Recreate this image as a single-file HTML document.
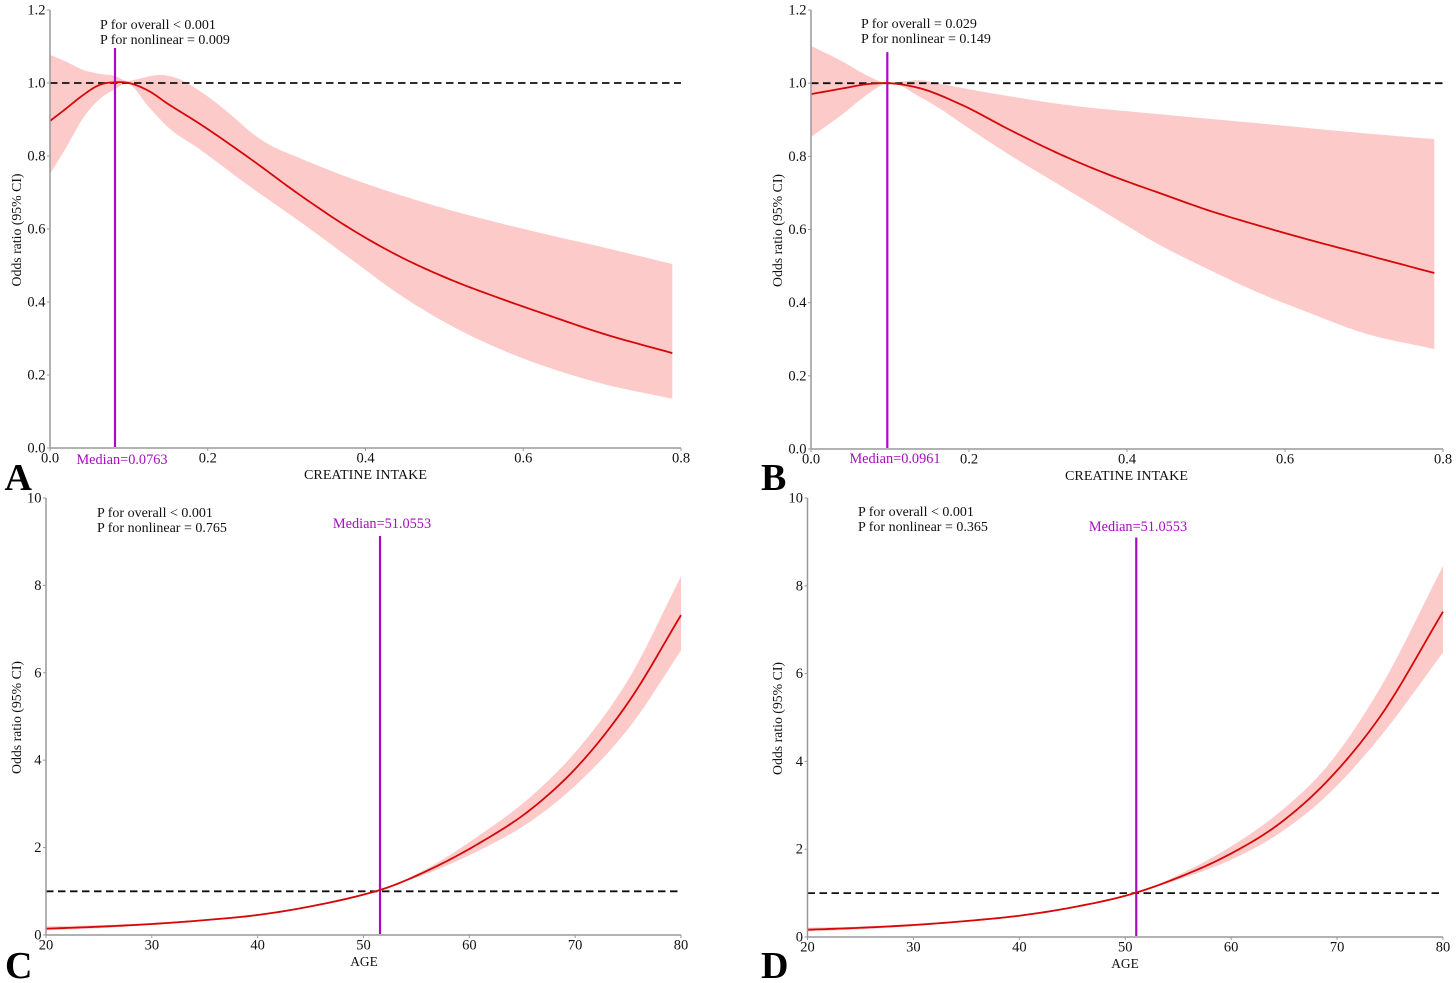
<!DOCTYPE html>
<html lang="en">
<head>
<meta charset="utf-8">
<title>Odds ratio spline panels</title>
<style>
html,body{margin:0;padding:0;background:#fff}
svg{display:block}
text{font-family:"Liberation Serif",serif;fill:#111}
</style>
</head>
<body>
<svg id="chart" width="1456" height="983" viewBox="0 0 1456 983" xmlns="http://www.w3.org/2000/svg"></svg>
<script>
const intakeXTicks = [0, 0.2, 0.4, 0.6, 0.8];
const intakeXTickLabels = ['0.0', '0.2', '0.4', '0.6', '0.8'];
const intakeYTicks = [0, 0.2, 0.4, 0.6, 0.8, 1.0, 1.2];
const intakeYTickLabels = ['0.0', '0.2', '0.4', '0.6', '0.8', '1.0', '1.2'];
const ageXTicks = [20, 30, 40, 50, 60, 70, 80];
const ageXTickLabels = ['20', '30', '40', '50', '60', '70', '80'];
const ageYTicks = [0, 2, 4, 6, 8, 10];
const ageYTickLabels = ['0', '2', '4', '6', '8', '10'];

const panelAMeanX = [0, 0.021, 0.042, 0.063, 0.0824, 0.097, 0.127, 0.148, 0.19, 0.232, 0.2536, 0.317, 0.38, 0.444, 0.507, 0.5705, 0.634, 0.697, 0.789];
const panelAMean = [0.896, 0.931, 0.967, 0.995, 1.002, 1.001, 0.976, 0.945, 0.888, 0.826, 0.793, 0.693, 0.602, 0.524, 0.462, 0.41, 0.362, 0.316, 0.26];
const panelAUpperX = [0, 0.021, 0.042, 0.063, 0.0824, 0.097, 0.11, 0.127, 0.139, 0.16, 0.19, 0.232, 0.2536, 0.275, 0.317, 0.38, 0.444, 0.507, 0.5705, 0.634, 0.697, 0.789];
const panelAUpper = [1.077, 1.058, 1.036, 1.025, 1.019, 1.006, 1.01, 1.019, 1.022, 1.014, 0.978, 0.908, 0.867, 0.835, 0.794, 0.74, 0.693, 0.652, 0.616, 0.583, 0.552, 0.504];
const panelALowerX = [0, 0.021, 0.042, 0.063, 0.0824, 0.097, 0.127, 0.148, 0.19, 0.2536, 0.317, 0.38, 0.444, 0.507, 0.5705, 0.634, 0.697, 0.789];
const panelALower = [0.751, 0.825, 0.904, 0.956, 0.983, 0.998, 0.93, 0.882, 0.818, 0.716, 0.62, 0.52, 0.419, 0.337, 0.271, 0.219, 0.178, 0.135];
const panelAMedian = [0.0824];
const panelAMedianTop = [1.096];

const panelBMeanX = [0, 0.041, 0.07, 0.0966, 0.138, 0.1886, 0.252, 0.315, 0.378, 0.442, 0.505, 0.568, 0.632, 0.695, 0.789];
const panelBMean = [0.97, 0.986, 0.997, 1.0, 0.986, 0.943, 0.872, 0.806, 0.749, 0.699, 0.651, 0.61, 0.571, 0.535, 0.481];
const panelBUpperX = [0, 0.041, 0.07, 0.0966, 0.117, 0.138, 0.167, 0.1886, 0.252, 0.315, 0.442, 0.568, 0.695, 0.789];
const panelBUpper = [1.102, 1.058, 1.022, 1.0, 1.005, 1.008, 0.997, 0.988, 0.964, 0.943, 0.915, 0.89, 0.864, 0.847];
const panelBLowerX = [0, 0.041, 0.07, 0.0966, 0.138, 0.167, 0.1886, 0.252, 0.315, 0.378, 0.442, 0.505, 0.568, 0.632, 0.695, 0.789];
const panelBLower = [0.853, 0.917, 0.967, 1.0, 0.962, 0.925, 0.893, 0.803, 0.721, 0.639, 0.557, 0.489, 0.426, 0.371, 0.32, 0.273];
const panelBMedian = [0.0966];
const panelBMedianTop = [1.085];

const panelCX = [20, 25, 30, 35, 40, 45, 50, 51.56, 56.28, 61, 65.73, 70.46, 75.18, 80];
const panelCMean = [0.145, 0.19, 0.252, 0.34, 0.458, 0.655, 0.925, 1.03, 1.5, 2.11, 2.86, 3.92, 5.38, 7.32];
const panelCUpper = [0.2, 0.225, 0.275, 0.36, 0.478, 0.675, 0.945, 1.03, 1.56, 2.29, 3.15, 4.31, 5.91, 8.21];
const panelCLower = [0.105, 0.155, 0.23, 0.32, 0.438, 0.635, 0.905, 1.03, 1.43, 1.945, 2.59, 3.52, 4.77, 6.51];
const panelCMedian = [51.56];
const panelCMedianTop = [9.13];

const panelDX = [20, 25, 30, 35, 40, 45, 51.02, 55.17, 59.9, 64.6, 69.3, 74.06, 80];
const panelDMean = [0.166, 0.21, 0.273, 0.365, 0.485, 0.675, 1.01, 1.37, 1.89, 2.59, 3.61, 5.02, 7.41];
const panelDUpper = [0.215, 0.24, 0.295, 0.385, 0.505, 0.695, 1.01, 1.43, 2.05, 2.85, 3.96, 5.67, 8.45];
const panelDLower = [0.125, 0.175, 0.25, 0.345, 0.465, 0.655, 1.01, 1.32, 1.75, 2.37, 3.28, 4.56, 6.48];
const panelDMedian = [51.04];
const panelDMedianTop = [9.1];

const NS = 'http://www.w3.org/2000/svg';
const svg = document.getElementById('chart');

function make(tag, attrs, parent, txt) {
  const el = document.createElementNS(NS, tag);
  for (const k in attrs) el.setAttribute(k, attrs[k]);
  if (txt !== undefined) el.textContent = txt;
  parent.appendChild(el);
  return el;
}

function tangents(xs, ys) {
  const n = xs.length, d = [], m = [];
  for (let i = 0; i < n - 1; i++) d.push((ys[i + 1] - ys[i]) / (xs[i + 1] - xs[i]));
  m.push(d[0]);
  for (let i = 1; i < n - 1; i++) {
    const h0 = xs[i] - xs[i - 1], h1 = xs[i + 1] - xs[i];
    m.push((h1 * d[i - 1] + h0 * d[i]) / (h0 + h1));
  }
  m.push(d[n - 2]);
  return m;
}

function smooth(xs, ys, sx, sy, reverse) {
  const m = tangents(xs, ys);
  const pts = [];
  for (let i = 0; i < xs.length - 1; i++) {
    const h = xs[i + 1] - xs[i];
    for (let s = 0; s < 12; s++) {
      const t = s / 12, t2 = t * t, t3 = t2 * t;
      const v = (2 * t3 - 3 * t2 + 1) * ys[i] + (t3 - 2 * t2 + t) * h * m[i] +
        (-2 * t3 + 3 * t2) * ys[i + 1] + (t3 - t2) * h * m[i + 1];
      pts.push(sx(xs[i] + t * h).toFixed(2) + ',' + sy(v).toFixed(2));
    }
  }
  pts.push(sx(xs[xs.length - 1]).toFixed(2) + ',' + sy(ys[ys.length - 1]).toFixed(2));
  if (reverse) pts.reverse();
  return pts;
}

function drawPanel(p) {
  const g = make('g', {}, svg);
  
  

  const sx = v => p.left + (v - p.xMin) / (p.xMax - p.xMin) * (p.right - p.left);
  const sy = v => p.bottom - (v - p.yMin) / (p.yMax - p.yMin) * (p.bottom - p.top);

  const band = make('polygon', {
    points: smooth(p.upperX, p.upper, sx, sy, false).concat(smooth(p.lowerX, p.lower, sx, sy, true)).join(' '),
    fill: '#fdcaca', stroke: 'none'
  }, g);
  
  

  const refLine = make('line', {
    x1: p.left, x2: p.right, y1: sy(1), y2: sy(1),
    stroke: '#111', 'stroke-width': 1.8, 'stroke-dasharray': '7.5 4.5'
  }, g);
  
  

  const medLine = make('line', {
    x1: sx(p.median[0]), x2: sx(p.median[0]), y1: sy(p.medianTop[0]), y2: p.bottom - 1,
    stroke: '#a60dbf', 'stroke-width': 2.2
  }, g);
  
  

  const curve = make('polyline', {
    points: smooth(p.meanX, p.mean, sx, sy, false).join(' '),
    fill: 'none', stroke: '#d40808', 'stroke-width': 1.8
  }, g);
  
  

  const yAxis = make('line', {x1: p.left, x2: p.left, y1: p.top, y2: p.bottom, stroke: '#999', 'stroke-width': 1.5}, g);
  
  
  const xAxis = make('line', {x1: p.left, x2: p.right, y1: p.bottom, y2: p.bottom, stroke: '#999', 'stroke-width': 1.5}, g);
  
  

  p.xTicks.forEach((v, i) => {
    const tick = make('line', {x1: sx(v), x2: sx(v), y1: p.bottom, y2: p.bottom + 3, stroke: '#999', 'stroke-width': 1}, g);
    
    
    const lab = make('text', {x: sx(v), y: p.bottom + 14.5, 'text-anchor': 'middle', 'font-size': 14.5}, g, p.xTickLabels[i]);
    
    
  });
  p.yTicks.forEach((v, i) => {
    const tick = make('line', {x1: p.left - 3, x2: p.left, y1: sy(v), y2: sy(v), stroke: '#999', 'stroke-width': 1}, g);
    
    
    const lab = make('text', {x: p.left - 4.5, y: sy(v) + 4.5, 'text-anchor': 'end', 'font-size': 14.5}, g, p.yTickLabels[i]);
    
    
  });

  const xTitle = make('text', {x: p.xTitleX, y: p.bottom + 31, 'text-anchor': 'middle', 'font-size': p.xTitleSize}, g, p.xTitle);
  
  

  const cy = (p.top + p.bottom) / 2;
  const yTitle = make('text', {x: 0, y: 0, 'text-anchor': 'middle', 'font-size': 13.8,
    transform: 'translate(' + p.yTitleX + ' ' + (cy + 1) + ') rotate(-90)'}, g, 'Odds ratio (95% CI)');
  
  

  const p1 = make('text', {x: p.pX, y: p.pY, 'font-size': 14}, g, p.pOverall);
  
  
  const p2 = make('text', {x: p.pX, y: p.pY + 15, 'font-size': 14}, g, p.pNonlinear);
  
  

  const med = make('text', {x: p.medianLabelX, y: p.medianLabelY, 'text-anchor': 'middle', 'font-size': 14.3, style: 'fill:#a60dbf'}, g, p.medianLabel);
  
  

  const letter = make('text', {x: p.letterX, y: p.letterY, 'font-size': 38, 'font-weight': 'bold', style: 'fill:#000'}, g, p.letter);
  
  
}

drawPanel({
  id: 'a', letter: 'A', letterX: 4.5, letterY: 490,
  left: 50, right: 681, top: 10, bottom: 448,
  xMin: 0, xMax: 0.8, yMin: 0, yMax: 1.2,
  meanX: panelAMeanX, mean: panelAMean, upperX: panelAUpperX, upper: panelAUpper, lowerX: panelALowerX, lower: panelALower,
  median: panelAMedian, medianTop: panelAMedianTop,
  xTicks: intakeXTicks, xTickLabels: intakeXTickLabels, yTicks: intakeYTicks, yTickLabels: intakeYTickLabels,
  xTitle: 'CREATINE INTAKE', xTitleSize: 14.1, xTitleX: 365.5, yTitleX: 21,
  pOverall: 'P for overall < 0.001', pNonlinear: 'P for nonlinear = 0.009', pX: 100, pY: 29,
  medianLabel: 'Median=0.0763', medianLabelX: 122, medianLabelY: 464
});
drawPanel({
  id: 'b', letter: 'B', letterX: 761, letterY: 490,
  left: 811, right: 1443, top: 10, bottom: 449,
  xMin: 0, xMax: 0.8, yMin: 0, yMax: 1.2,
  meanX: panelBMeanX, mean: panelBMean, upperX: panelBUpperX, upper: panelBUpper, lowerX: panelBLowerX, lower: panelBLower,
  median: panelBMedian, medianTop: panelBMedianTop,
  xTicks: intakeXTicks, xTickLabels: intakeXTickLabels, yTicks: intakeYTicks, yTickLabels: intakeYTickLabels,
  xTitle: 'CREATINE INTAKE', xTitleSize: 14.1, xTitleX: 1126.5, yTitleX: 782,
  pOverall: 'P for overall = 0.029', pNonlinear: 'P for nonlinear = 0.149', pX: 861, pY: 28,
  medianLabel: 'Median=0.0961', medianLabelX: 895, medianLabelY: 463
});
drawPanel({
  id: 'c', letter: 'C', letterX: 5, letterY: 978,
  left: 46, right: 681, top: 498, bottom: 935,
  xMin: 20, xMax: 80, yMin: 0, yMax: 10,
  meanX: panelCX, mean: panelCMean, upperX: panelCX, upper: panelCUpper, lowerX: panelCX, lower: panelCLower,
  median: panelCMedian, medianTop: panelCMedianTop,
  xTicks: ageXTicks, xTickLabels: ageXTickLabels, yTicks: ageYTicks, yTickLabels: ageYTickLabels,
  xTitle: 'AGE', xTitleSize: 13.4, xTitleX: 364, yTitleX: 21,
  pOverall: 'P for overall < 0.001', pNonlinear: 'P for nonlinear = 0.765', pX: 97, pY: 517,
  medianLabel: 'Median=51.0553', medianLabelX: 382, medianLabelY: 528
});
drawPanel({
  id: 'd', letter: 'D', letterX: 761, letterY: 978,
  left: 807.5, right: 1443, top: 498, bottom: 937,
  xMin: 20, xMax: 80, yMin: 0, yMax: 10,
  meanX: panelDX, mean: panelDMean, upperX: panelDX, upper: panelDUpper, lowerX: panelDX, lower: panelDLower,
  median: panelDMedian, medianTop: panelDMedianTop,
  xTicks: ageXTicks, xTickLabels: ageXTickLabels, yTicks: ageYTicks, yTickLabels: ageYTickLabels,
  xTitle: 'AGE', xTitleSize: 13.4, xTitleX: 1125, yTitleX: 782,
  pOverall: 'P for overall < 0.001', pNonlinear: 'P for nonlinear = 0.365', pX: 858, pY: 516,
  medianLabel: 'Median=51.0553', medianLabelX: 1138, medianLabelY: 531
});
</script>
</body>
</html>
